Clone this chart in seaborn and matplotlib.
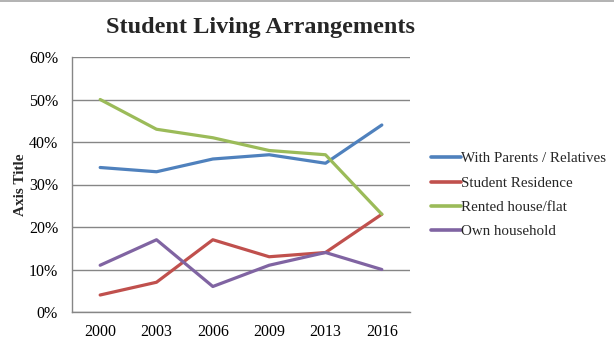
import matplotlib
matplotlib.use("Agg")
import matplotlib.pyplot as plt
import seaborn as sns
import pandas as pd
from matplotlib.lines import Line2D
from matplotlib.ticker import PercentFormatter

years = ["2000", "2003", "2006", "2009", "2013", "2016"]
series_names = ["With Parents / Relatives", "Student Residence",
                "Rented house/flat", "Own household"]
with_parents = [34, 33, 36, 37, 35, 44]
student_residence = [4, 7, 17, 13, 14, 23]
rented_house = [50, 43, 41, 38, 37, 23]
own_household = [11, 17, 6, 11, 14, 10]
colors = ["#4F81BD", "#C0504D", "#9BBB59", "#8064A2"]

values = [with_parents, student_residence, rented_house, own_household]
rows = []
for name, vals in zip(series_names, values):
    for y, v in zip(years, vals):
        rows.append({"Year": y, "Share": v, "Arrangement": name})
df = pd.DataFrame(rows)

sns.set_theme(style="white")
plt.rcParams["font.family"] = ["Liberation Serif", "DejaVu Serif"]

fig = plt.figure(figsize=(6.14, 3.44), dpi=100)
ax = fig.add_axes([72 / 614, 1 - 312 / 344, 338 / 614, 255 / 344])

sns.lineplot(data=df, x="Year", y="Share", hue="Arrangement",
             hue_order=series_names, palette=colors, linewidth=2.3,
             sort=False, ax=ax)

ax.set_xlim(-0.5, len(years) - 0.5)
ax.set_ylim(0, 60)
ax.set_yticks(range(0, 61, 10))
ax.yaxis.set_major_formatter(PercentFormatter(decimals=0))
ax.grid(axis="y", color="#868686", linewidth=1.0)
ax.set_axisbelow(True)
for side in ["top", "right"]:
    ax.spines[side].set_visible(False)
for side in ["left", "bottom"]:
    ax.spines[side].set_color("#868686")
    ax.spines[side].set_linewidth(1.0)
ax.tick_params(axis="y", length=0, labelsize=11.5, colors="black", pad=10)
ax.tick_params(axis="x", length=0, labelsize=11.5, colors="black", pad=9)
ax.set_xlabel("")
ax.set_ylabel("Axis Title", fontsize=11, fontweight="bold")
ax.yaxis.set_label_coords(-45 / 338, 0.5)

fig.suptitle("Student Living Arrangements", x=261 / 614, y=1 - 17 / 344,
             fontsize=17.5, fontweight="bold", va="top")

# thin grey rule along the top edge of the figure
fig.add_artist(Line2D([0, 1], [1 - 0.5 / 344, 1 - 0.5 / 344],
                      transform=fig.transFigure, color="#A6A6A6", linewidth=1.2))

leg = ax.legend(loc="upper left", bbox_to_anchor=(431 / 614, 1 - 152 / 344),
                bbox_transform=fig.transFigure, frameon=False, fontsize=10.8,
                handlelength=2.0, handletextpad=0.0, labelspacing=0.72,
                borderaxespad=0, borderpad=0)
for handle in leg.get_lines():
    handle.set_linewidth(2.6)

fig.savefig("out.png", dpi=100)
